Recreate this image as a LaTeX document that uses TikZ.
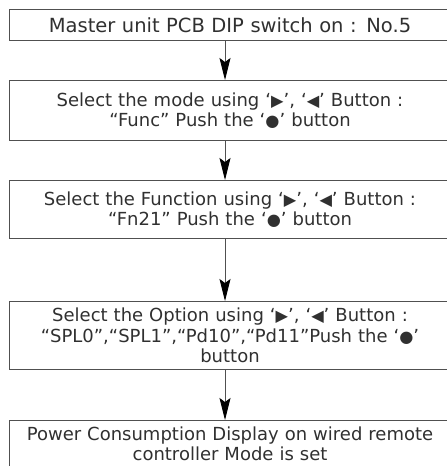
\documentclass[tikz,border=0pt]{standalone}
\usepackage{fontspec}
\setmainfont{DejaVu Sans}
\usepackage{xcolor}
\definecolor{boxgray}{HTML}{505050}
\definecolor{textgray}{HTML}{303030}
\usetikzlibrary{arrows.meta,positioning}
\newcommand{\rgt}{\scalebox{0.9}{▶}}
\newcommand{\lft}{\scalebox{0.9}{◀}}
\newcommand{\dotbtn}{\scalebox{0.9}{●}}

\begin{document}
\begin{tikzpicture}[x=1pt,y=1pt,
    stepbox/.style={draw=boxgray,line width=0.9pt,minimum width=442pt,text width=438pt,
      inner sep=0pt,align=center,anchor=north,text=textgray,
      font=\fontsize{18}{20.5}\selectfont},
    flow/.style={-{Stealth[length=22pt,width=11pt,inset=4pt,black]},draw=boxgray,line width=0.9pt}]
    \useasboundingbox (0,0) rectangle (447,-466);
    \node[stepbox,minimum height=31pt,font=\fontsize{19.5}{21}\selectfont] (sw) at (230,-9)
      {Master unit PCB DIP switch on : No.5};
    \node[stepbox,minimum height=60pt] (mode) at (230,-80)
      {Select the mode using ‘\rgt’, ‘\lft’ Button :\\ “Func” Push the ‘\dotbtn’ button};
    \node[stepbox,minimum height=58pt] (func) at (230,-180)
      {Select the Function using ‘\rgt’, ‘\lft’ Button :\\ “Fn21” Push the ‘\dotbtn’ button};
    \node[stepbox,minimum height=68pt] (opt) at (230,-301)
      {Select the Option using ‘\rgt’, ‘\lft’ Button :\\ “SPL0”,“SPL1”,“Pd10”,“Pd11”Push the ‘\dotbtn’\\ button};
    \node[stepbox,minimum height=47pt] (done) at (230,-420)
      {Power Consumption Display on wired remote\\ controller Mode is set};
    \draw[flow] ([xshift=-5pt]sw.south) -- ([xshift=-5pt]mode.north);
    \draw[flow] ([xshift=-5pt]mode.south) -- ([xshift=-5pt]func.north);
    \draw[flow] ([xshift=-5pt]func.south) -- ([xshift=-5pt]opt.north);
    \draw[flow] ([xshift=-5pt]opt.south) -- ([xshift=-5pt]done.north);
\end{tikzpicture}
\end{document}
